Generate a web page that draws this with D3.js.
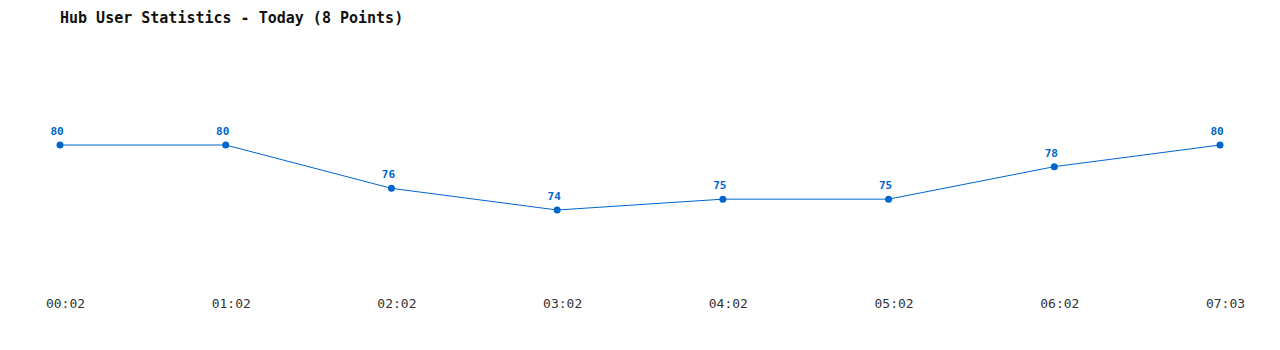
<!DOCTYPE html>
<html>
<head>
<meta charset="utf-8">
<script src="https://cdn.jsdelivr.net/npm/d3@7"></script>
<style>
  body { margin: 0; background: #fff; }
  svg { display: block; }
  text { font-family: "DejaVu Sans Mono", "Liberation Mono", monospace; }
</style>
</head>
<body>
<div id="chart"></div>
<script>
const times = ["00:02", "01:02", "02:02", "03:02", "04:02", "05:02", "06:02", "07:03"];
const users = [80, 80, 76, 74, 75, 75, 78, 80];
const title = "Hub User Statistics - Today (8 Points)";

const width = 1280, height = 350;
const blue = "#0066cc";

let svg = d3.select("#chart")
    .append("svg")
    .attr("width", width)
    .attr("height", height);

svg.append("text")
    .attr("x", 60)
    .attr("y", 23)
    .attr("font-size", 15)
    .attr("font-weight", "bold")
    .attr("fill", "#111")
    .text(title);

let x = d3.scalePoint()
    .domain(times)
    .range([60, 1220]);

let y = d3.scaleLinear()
    .domain(d3.extent(users))
    .range([210, 145]);

let data = times.map((t, i) => ({t: t, v: users[i]}));

let line = d3.line()
    .x(d => x(d.t))
    .y(d => y(d.v));

svg.append("path")
    .datum(data)
    .attr("d", line)
    .attr("fill", "none")
    .attr("stroke", blue)
    .attr("stroke-width", 1);

svg.selectAll(".dot")
    .data(data)
    .enter()
    .append("circle")
    .attr("class", "dot")
    .attr("cx", d => x(d.t))
    .attr("cy", d => y(d.v))
    .attr("r", 3.5)
    .attr("fill", blue);

svg.selectAll(".val")
    .data(data)
    .enter()
    .append("text")
    .attr("class", "val")
    .attr("x", d => x(d.t) - 3)
    .attr("y", d => y(d.v) - 10)
    .attr("text-anchor", "middle")
    .attr("font-size", 11)
    .attr("font-weight", "bold")
    .attr("fill", blue)
    .text(d => d.v);

// x axis labels, no line or ticks
let axis = d3.axisBottom(x).tickSize(0).tickPadding(0);
let g = svg.append("g")
    .attr("transform", "translate(5, 299)")
    .call(axis);
g.select(".domain").remove();
g.selectAll("text")
    .attr("font-family", "\"DejaVu Sans Mono\", monospace")
    .attr("font-size", 13)
    .attr("fill", "#333");
</script>
</body>
</html>
